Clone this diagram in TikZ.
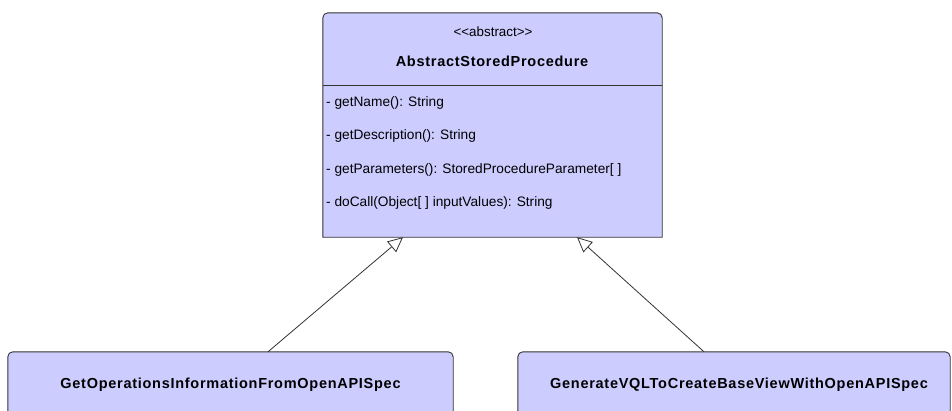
\documentclass[tikz,border=0pt]{standalone}
\usepackage{fontspec}
\setmainfont{Liberation Sans}
\usetikzlibrary{arrows.meta}
\definecolor{classfill}{HTML}{CCCCFF}
\definecolor{classline}{HTML}{333333}
\tikzset{
  boxarea/.style={draw=none, fill=none, inner sep=0pt},
  outline/.style={draw=classline, fill=classfill, line width=0.9pt},
  member/.style={anchor=west, inner sep=0pt, font=\fontsize{13.7}{15}\selectfont, text=black},
  stereo/.style={inner sep=0pt, font=\fontsize{13.4}{15}\selectfont},
  classname/.style={inner sep=0pt, font=\bfseries\fontsize{14.5}{16}\selectfont\addfontfeature{LetterSpace=5}},
  inherit/.style={draw=classline, line width=0.8pt, -{Triangle[open, length=15pt, width=14pt, fill=white]}}
}
\newcommand{\topround}[2]{% #1 = node name, #2 = extra depth
  \path[outline] ([yshift=-#2]#1.south west) -- ([yshift=-5pt]#1.north west)
    arc[start angle=180, end angle=90, radius=5pt]
    -- ([xshift=-5pt]#1.north east)
    arc[start angle=90, end angle=0, radius=5pt]
    -- ([yshift=-#2]#1.south east) -- cycle;}
\begin{document}
\begin{tikzpicture}[x=1pt, y=-1pt]
\useasboundingbox (0,0) rectangle (952,410);
\begin{scope}
\clip (0,0) rectangle (952,410);
% top class
\node[boxarea, minimum width=339pt, minimum height=224pt] (asp) at (492.5,125) {};
\topround{asp}{0pt}
\draw[classline, line width=0.9pt] ([yshift=-73pt]asp.north west) -- ([yshift=-73pt]asp.north east);
\node[stereo] (st) at (493,32) {{<}{<}abstract{>}{>}};
\node[classname] (nm) at (492,61) {AbstractStoredProcedure};
\node[member] (m1) at (326,103) {- getName(): String};
\node[member] (m2) at (326,136) {- getDescription(): String};
\node[member] (m3) at (326,170) {- getParameters(): StoredProcedureParameter[ ]};
\node[member] (m4) at (326,203) {- doCall(Object[ ] inputValues): String};
% bottom classes
\node[boxarea, minimum width=445pt, minimum height=60pt] (goi) at (230.5,382) {};
\topround{goi}{20pt}
\node[classname] at (230.5,385) {GetOperationsInformationFromOpenAPISpec};
\node[boxarea, minimum width=432pt, minimum height=60pt] (gvq) at (734,382) {};
\topround{gvq}{20pt}
\node[classname] at (739,385) {GenerateVQLToCreateBaseViewWithOpenAPISpec};
% generalisations
\draw[inherit] ([xshift=37.5pt]goi.north) -- ([xshift=-89.5pt]asp.south);
\draw[inherit] ([xshift=-30pt]gvq.north) -- ([xshift=84.5pt]asp.south);
\end{scope}
\end{tikzpicture}
\end{document}
